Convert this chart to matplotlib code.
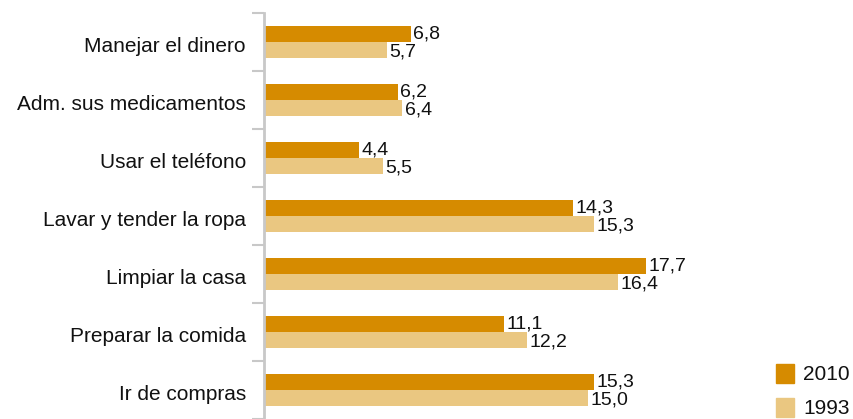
import matplotlib.pyplot as plt
import numpy as np

plt.rcParams['font.family'] = ['Liberation Sans', 'DejaVu Sans']

categorias = ["Manejar el dinero", "Adm. sus medicamentos", "Usar el teléfono",
              "Lavar y tender la ropa", "Limpiar la casa", "Preparar la comida",
              "Ir de compras"]
v2010 = [6.8, 6.2, 4.4, 14.3, 17.7, 11.1, 15.3]
v1993 = [5.7, 6.4, 5.5, 15.3, 16.4, 12.2, 15.0]

c2010 = '#d68b00'
c1993 = '#eac781'

fig = plt.figure(figsize=(8.54, 4.19), dpi=100)
ax = fig.add_axes([264 / 854, 0, 1 - 264 / 854, 1 - 13 / 419])

y = np.arange(len(categorias))
h = 0.276
ax.barh(y - h / 2, v2010, height=h, color=c2010, edgecolor='none')
ax.barh(y + h / 2, v1993, height=h, color=c1993, edgecolor='none')

fmt = lambda v: f'{v:.1f}'.replace('.', ',')
for yi, v in zip(y, v2010):
    ax.text(v + 0.12, yi - h / 2, fmt(v), va='center', ha='left', fontsize=14, color='#111111')
for yi, v in zip(y, v1993):
    ax.text(v + 0.12, yi + h / 2 + 0.03, fmt(v), va='center', ha='left', fontsize=14, color='#111111')

ax.set_xlim(0, 590 / 21.58)
ax.set_ylim(len(categorias) - 0.5, -0.5)

ax.set_yticks(y + 0.05)
ax.set_yticklabels(categorias, fontsize=15, color='#111111')
ax.tick_params(axis='y', which='major', length=0, pad=13)
ax.set_yticks(np.arange(len(categorias) + 1) - 0.5, minor=True)
ax.tick_params(axis='y', which='minor', length=9, width=1.5, color='#c8c8c8')
ax.set_xticks([])

for s in ['top', 'right', 'bottom']:
    ax.spines[s].set_visible(False)
ax.spines['left'].set_color('#c8c8c8')
ax.spines['left'].set_linewidth(2)

# leyenda
fig.patches.append(plt.Rectangle((776 / 854, 1 - 383 / 419), 18 / 854, 19 / 419,
                                 transform=fig.transFigure, color=c2010))
fig.patches.append(plt.Rectangle((776 / 854, 1 - 417 / 419), 18 / 854, 19 / 419,
                                 transform=fig.transFigure, color=c1993))
fig.text(803 / 854, 1 - 374 / 419, '2010', va='center', ha='left', fontsize=15, color='#111111')
fig.text(803 / 854, 1 - 408 / 419, '1993', va='center', ha='left', fontsize=15, color='#111111')

fig.savefig('out.png', dpi=100)
